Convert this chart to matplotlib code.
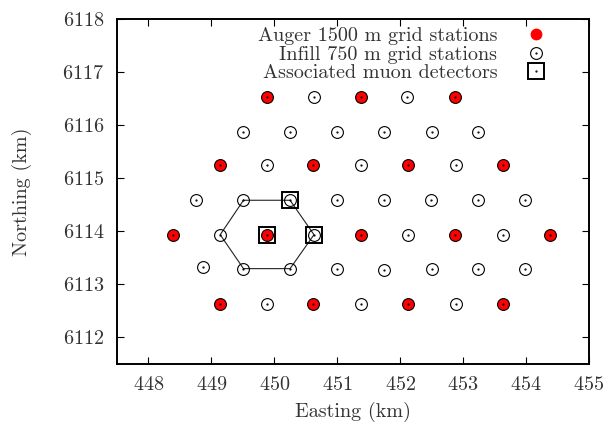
import matplotlib
matplotlib.use('Agg')
import matplotlib.pyplot as plt
from matplotlib.lines import Line2D

plt.rcParams['font.family'] = 'serif'
plt.rcParams['font.serif'] = ['cmr10']
plt.rcParams['axes.formatter.use_mathtext'] = True

# 1500 m grid stations (km)
auger_x = [449.88, 451.38, 452.87,
           449.14, 450.62, 452.12, 453.63,
           448.39, 449.88, 451.38, 452.87, 454.38,
           449.14, 450.62, 452.12, 453.63]
auger_y = [6116.52, 6116.52, 6116.52,
           6115.24, 6115.24, 6115.24, 6115.24,
           6113.93, 6113.93, 6113.93, 6113.93, 6113.93,
           6112.63, 6112.63, 6112.63, 6112.63]

# 750 m infill stations (km)
infill_x = [449.88, 450.63, 451.38, 452.11, 452.87,
            449.51, 450.25, 451.00, 451.75, 452.50, 453.24,
            449.14, 449.88, 450.62, 451.38, 452.12, 452.88, 453.63,
            448.76, 449.51, 450.25, 451.00, 451.75, 452.49, 453.24, 453.99,
            448.39, 449.14, 449.88, 450.63, 451.38, 452.12, 452.87, 453.63, 454.38,
            448.86, 449.51, 450.25, 451.00, 451.75, 452.50, 453.24, 453.99,
            449.14, 449.88, 450.62, 451.37, 452.12, 452.88, 453.63]
infill_y = [6116.52] * 5 + [6115.87] * 6 + [6115.24] * 7 + [6114.58] * 8 + \
           [6113.93] * 9 + \
           [6113.32, 6113.29, 6113.29, 6113.29, 6113.26, 6113.29, 6113.29, 6113.29] + \
           [6112.63] * 7

# muon detectors (km)
muon_x = [449.88, 450.25, 450.63]
muon_y = [6113.93, 6114.58, 6113.93]

# hexagon around the central station
hex_x = [449.51, 450.25, 450.63, 450.25, 449.51, 449.14, 449.51]
hex_y = [6114.58, 6114.58, 6113.93, 6113.29, 6113.29, 6113.93, 6114.58]

FS = 14.5
TXT = '#333333'

fig = plt.figure(figsize=(6.08, 4.25), dpi=100)
ax = fig.add_axes([0.1924, 0.1447, 0.7764, 0.8106])

ax.plot(hex_x, hex_y, color='#222222', lw=0.8, zorder=1)
ax.plot(auger_x, auger_y, 'o', color='red', ms=8.5, mew=0, ls='none', zorder=2)
ax.plot(infill_x, infill_y, 'o', mfc='none', mec='black', ms=8.5, mew=0.8,
        ls='none', zorder=3)
ax.plot(infill_x, infill_y, '.', color='black', ms=1.2, ls='none', zorder=4)
ax.plot(muon_x, muon_y, 's', mfc='none', mec='black', ms=12, mew=1.4,
        ls='none', zorder=5)

# legend handles
h_auger = Line2D([], [], marker='o', color='red', ms=8.5, mew=0, ls='none')
h_dot = Line2D([], [], marker='.', color='black', ms=1.2, ls='none')
h_inf = (Line2D([], [], marker='o', mfc='none', mec='black', ms=8.5, mew=0.8, ls='none'), h_dot)
h_muon = (Line2D([], [], marker='s', mfc='none', mec='black', ms=12, mew=1.4, ls='none'), h_dot)
leg = ax.legend([h_auger, h_inf, h_muon],
                ['Auger 1500 m grid stations', 'Infill 750 m grid stations',
                 'Associated muon detectors'],
                loc='upper right', frameon=False, markerfirst=False,
                fontsize=FS, handlelength=1.5, handletextpad=1.15,
                labelspacing=0.02, borderaxespad=0,
                bbox_to_anchor=(0.936, 1.0))
for t in leg.get_texts():
    t.set_color(TXT)

ax.set_xlim(447.5, 455)
ax.set_ylim(6111.5, 6118)
ax.set_xticks(range(448, 456))
ax.set_yticks(range(6112, 6119))
ax.tick_params(direction='in', length=5, width=0.8, top=True, right=True,
               labelsize=FS, pad=9, labelcolor=TXT)
ax.ticklabel_format(useOffset=False)
for s in ax.spines.values():
    s.set_linewidth(1.4)

ax.set_xlabel('Easting (km)', fontsize=FS, color=TXT, labelpad=6)
ax.set_ylabel('Northing (km)', fontsize=FS, color=TXT, labelpad=22)

fig.savefig('out.png', dpi=100)
